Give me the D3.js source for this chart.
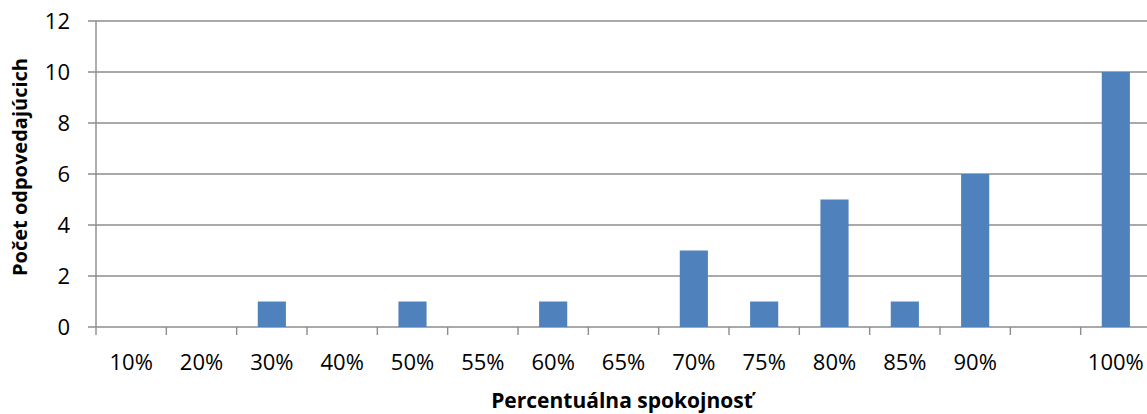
<!DOCTYPE html>
<html>
<head>
<meta charset="utf-8">
<script src="https://cdn.jsdelivr.net/npm/d3@7"></script>
<style>
  body { margin: 0; background: #fff; }
  svg { display: block; }
</style>
</head>
<body>
<svg width="1147" height="414"></svg>
<script>
// categories (one blank slot between 90% and 100%, as in the original)
var categories = ["10%", "20%", "30%", "40%", "50%", "55%", "60%", "65%", "70%", "75%", "80%", "85%", "90%", "", "100%"];
var counts = [0, 0, 1, 0, 1, 0, 1, 0, 3, 1, 5, 1, 6, 0, 10];
var yTicks = [0, 2, 4, 6, 8, 10, 12];

var xTitle = "Percentuálna spokojnosť";
var yTitle = "Počet odpovedajúcich";

var svg = d3.select("svg"),
  margin = {top: 21, right: 0, bottom: 87, left: 96},
  plotW = 1055,
  height = 414 - margin.top - margin.bottom;

var font = "'Open Sans', sans-serif";
var gridColor = "#8c8c8c";

var idx = d3.range(categories.length);
var x = d3.scaleBand().domain(idx).range([0, plotW]).paddingInner(0.6).paddingOuter(0.3);
var xEdge = d3.scaleLinear().domain([0, categories.length]).range([0, plotW]);
var y = d3.scaleLinear().domain([0, 12]).range([height, 0]);

var g = svg.append("g")
  .attr("transform", "translate(" + margin.left + "," + margin.top + ")");

// horizontal gridlines (with small ticks poking left of the axis)
g.selectAll(".grid")
  .data(yTicks)
  .enter().append("line")
  .attr("class", "grid")
  .attr("x1", -8)
  .attr("x2", plotW)
  .attr("y1", function(d) { return y(d); })
  .attr("y2", function(d) { return y(d); })
  .attr("stroke", gridColor)
  .attr("stroke-width", 1.4);

// y axis line
g.append("line")
  .attr("x1", 0).attr("x2", 0)
  .attr("y1", y(12)).attr("y2", y(0) + 8)
  .attr("stroke", gridColor)
  .attr("stroke-width", 1.4);

// x tick marks between categories
g.selectAll(".xtick")
  .data(d3.range(1, categories.length + 1))
  .enter().append("line")
  .attr("class", "xtick")
  .attr("x1", function(d) { return xEdge(d); })
  .attr("x2", function(d) { return xEdge(d); })
  .attr("y1", y(0))
  .attr("y2", y(0) + 8)
  .attr("stroke", gridColor)
  .attr("stroke-width", 1.4);

// bars
g.selectAll(".bar")
  .data(idx)
  .enter().append("rect")
  .attr("class", "bar")
  .attr("x", function(i) { return x(i); })
  .attr("width", x.bandwidth())
  .attr("y", function(i) { return y(counts[i]); })
  .attr("height", function(i) { return y(0) - y(counts[i]); })
  .attr("fill", "#4f81bd");

// y tick labels
g.selectAll(".ylab")
  .data(yTicks)
  .enter().append("text")
  .attr("class", "ylab")
  .attr("x", -26)
  .attr("y", function(d) { return y(d); })
  .attr("dy", "0.36em")
  .attr("text-anchor", "end")
  .style("font", "22px " + font)
  .attr("fill", "#000")
  .text(function(d) { return d; });

// x tick labels
g.selectAll(".xlab")
  .data(idx)
  .enter().append("text")
  .attr("class", "xlab")
  .attr("x", function(i) { return x(i) + x.bandwidth() / 2; })
  .attr("y", y(0) + 43)
  .attr("text-anchor", "middle")
  .style("font", "22px " + font)
  .attr("fill", "#000")
  .text(function(i) { return categories[i]; });

// axis titles
svg.append("text")
  .attr("x", 622)
  .attr("y", 408)
  .attr("text-anchor", "middle")
  .style("font", "bold 21px " + font)
  .text(xTitle);

svg.append("text")
  .attr("transform", "translate(27," + 167 + ") rotate(-90)")
  .attr("text-anchor", "middle")
  .style("font", "bold 20px " + font)
  .text(yTitle);
</script>
</body>
</html>
